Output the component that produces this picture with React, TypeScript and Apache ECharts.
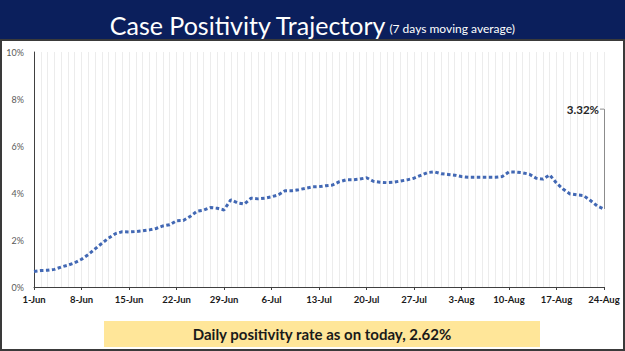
import React, { useEffect, useRef } from "react";
import * as echarts from "echarts";

const months: [string, number][] = [["Jun", 30], ["Jul", 31], ["Aug", 24]];
const categories: string[] = [];
months.forEach(([m, n]) => {
  for (let d = 1; d <= n; d++) categories.push(`${d}-${m}`);
});

const positivity: number[] = [
  0.66, 0.70, 0.71, 0.75, 0.85, 0.93, 1.03, 1.18, 1.38, 1.62,
  1.86, 2.08, 2.27, 2.35, 2.34, 2.36, 2.39, 2.43, 2.49, 2.60,
  2.65, 2.82, 2.83, 3.00, 3.22, 3.27, 3.38, 3.35, 3.28, 3.71,
  3.58, 3.53, 3.78, 3.75, 3.78, 3.84, 3.92, 4.10, 4.10, 4.14,
  4.20, 4.26, 4.27, 4.31, 4.34, 4.48, 4.56, 4.56, 4.59, 4.65,
  4.50, 4.46, 4.44, 4.46, 4.51, 4.56, 4.63, 4.75, 4.87, 4.90,
  4.82, 4.79, 4.76, 4.70, 4.67, 4.67, 4.67, 4.67, 4.67, 4.70,
  4.90, 4.89, 4.86, 4.80, 4.63, 4.59, 4.77, 4.42, 4.16, 3.96,
  3.92, 3.89, 3.68, 3.45, 3.32,
];

const yTicks = { min: 0, max: 10, interval: 2 };
const calloutTop = 7.57;
const titleText = "Case Positivity Trajectory";
const subtitleText = "(7 days moving average)";
const footerText = "Daily positivity rate as on today, 2.62%";

export default function App() {
  const ref = useRef<HTMLDivElement>(null);
  useEffect(() => {
    if (!ref.current) return;
    const chart = echarts.init(ref.current, null, { renderer: "svg" });
    const lastIdx = positivity.length - 1;
    const lastVal = positivity[lastIdx];
    chart.setOption({
      animation: false,
      backgroundColor: "#ffffff",
      textStyle: { fontFamily: "Lato" },
      grid: { left: 34, right: 21, top: 52, bottom: 64 },
      graphic: [
        {
          type: "rect",
          shape: { x: 0, y: 0, width: 625, height: 40 },
          style: { fill: "#0b1f5c" },
          z: 10,
        },
        {
          type: "rect",
          shape: { x: 1, y: 40, width: 623, height: 310 },
          style: { fill: "none", stroke: "#3a3a3a", lineWidth: 2 },
          z: 10,
        },
        {
          type: "text",
          x: 312,
          y: 22,
          z: 11,
          style: {
            text: `{a|${titleText}} {b|${subtitleText}}`,
            textAlign: "center",
            textVerticalAlign: "middle",
            rich: {
              a: { fontFamily: "Lato", fontSize: 25, fill: "#ffffff", color: "#ffffff", lineHeight: 30, verticalAlign: "bottom" },
              b: { fontFamily: "Lato", fontSize: 12, fill: "#ffffff", color: "#ffffff", lineHeight: 30, verticalAlign: "bottom", padding: [0, 0, 3, 0] },
            },
          },
        },
        {
          type: "rect",
          shape: { x: 104, y: 321, width: 436, height: 26 },
          style: { fill: "#ffe699" },
          z: 10,
        },
        {
          type: "text",
          x: 322,
          y: 334,
          z: 11,
          style: {
            text: footerText,
            textAlign: "center",
            textVerticalAlign: "middle",
            fontFamily: "Lato",
            fontSize: 15,
            fontWeight: "bold",
            fill: "#1a1a1a",
          },
        },
      ],
      xAxis: {
        type: "category",
        data: categories,
        boundaryGap: false,
        axisLine: { lineStyle: { color: "#404040", width: 1 } },
        axisTick: { interval: 6, length: 3, lineStyle: { color: "#404040" } },
        axisLabel: { interval: 6, color: "#1a1a1a", fontSize: 9.5, fontWeight: "bold", margin: 7, fontFamily: "Lato" },
        splitLine: { show: true, interval: 0, lineStyle: { color: "#ececec", width: 1 } },
      },
      yAxis: {
        type: "value",
        min: yTicks.min,
        max: yTicks.max,
        interval: yTicks.interval,
        axisLine: { show: true, lineStyle: { color: "#404040", width: 1 } },
        axisTick: { show: false },
        axisLabel: { formatter: "{value}%", color: "#595959", fontSize: 9, margin: 10, fontFamily: "Lato" },
        splitLine: { show: false },
      },
      series: [
        {
          type: "line",
          data: positivity,
          symbol: "none",
          lineStyle: { color: "#4268b4", width: 3, type: [3.5, 2.5] },
          markLine: {
            silent: true,
            symbol: "none",
            label: { show: false },
            lineStyle: { color: "#8c8c8c", width: 1, type: "solid" },
            data: [[{ coord: [lastIdx, lastVal] }, { coord: [lastIdx, calloutTop] }]],
          },
          markPoint: {
            silent: true,
            symbol: "rect",
            symbolSize: [4, 1],
            symbolOffset: [-2, 0],
            itemStyle: { color: "#8c8c8c" },
            label: {
              show: true,
              position: "left",
              distance: 1,
              formatter: `${lastVal.toFixed(2)}%`,
              color: "#262626",
              fontSize: 11.5,
              fontWeight: "bold",
              fontFamily: "Lato",
            },
            data: [{ coord: [lastIdx, calloutTop] }],
          },
        },
      ],
    });
    return () => chart.dispose();
  }, []);
  return <div ref={ref} style={{ position: "fixed", left: 0, top: 0, width: 625, height: 351 }} />;
}
